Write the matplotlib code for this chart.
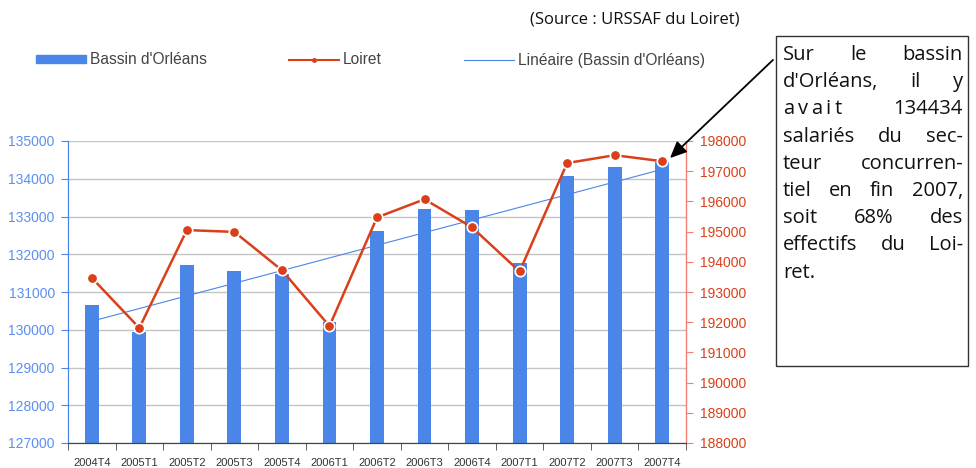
import numpy as np
import matplotlib
matplotlib.use("Agg")
import matplotlib.pyplot as plt
from matplotlib.patches import Patch, FancyArrowPatch, Rectangle
from matplotlib.lines import Line2D

trimestres = ["2004T4", "2005T1", "2005T2", "2005T3", "2005T4", "2006T1", "2006T2",
              "2006T3", "2006T4", "2007T1", "2007T2", "2007T3", "2007T4"]
bassin = [130650, 129930, 131710, 131550, 131480, 130200, 132620,
          133210, 133180, 131770, 134060, 134300, 134434]
loiret = [193470, 191810, 195050, 194990, 193720, 191870, 195470,
          196070, 195140, 193680, 197270, 197530, 197330]

bleu = "#4a86e8"
rouge = "#d9401a"
W, H = 976, 468

plt.rcParams['font.family'] = ['Liberation Sans', 'DejaVu Sans']
fig = plt.figure(figsize=(W / 100, H / 100), dpi=100)
ax = fig.add_axes([68 / W, (H - 443) / H, (686 - 68) / W, (443 - 141) / H])
ax2 = ax.twinx()

x = np.arange(len(trimestres))
ax.bar(x, bassin, width=0.29, color=bleu, zorder=2)
a, b = np.polyfit(x, bassin, 1)
ax.plot(x, a * x + b, color=bleu, lw=0.8, zorder=3)

ax2.plot(x, loiret, color=rouge, lw=1.8, marker="o", ms=7.5,
         mfc=rouge, mec="white", mew=1.2, zorder=4)

ax.set_xlim(-0.5, len(trimestres) - 0.5)
ax.set_ylim(127000, 135000)
ax2.set_ylim(188000, 198000)
ax.set_yticks(np.arange(127000, 135001, 1000))
ax2.set_yticks(np.arange(188000, 198001, 1000))
ax.grid(axis="y", color="#c4c4c4", lw=1, zorder=0)
ax.set_axisbelow(True)

ax.set_xticks(x)
ax.set_xticklabels(trimestres, fontsize=8, color="#333333")
ax.set_xticks(np.arange(-0.5, len(trimestres), 1), minor=True)
ax.tick_params(axis="x", which="major", length=0, pad=11)
ax.tick_params(axis="x", which="minor", length=5, color="#444444", direction="out")

ax.tick_params(axis="y", labelsize=10, labelcolor="#5b8ff0", color=bleu, length=5, pad=4.5)
ax2.tick_params(axis="y", labelsize=10, labelcolor=rouge, color="#f08070", length=5, pad=5)

ax.spines["top"].set_visible(False)
ax2.spines["top"].set_visible(False)
ax2.spines["left"].set_color(bleu)
ax2.spines["right"].set_color("#f08070")
ax2.spines["bottom"].set_color("#444444")
ax.spines["left"].set_color(bleu)
ax.spines["bottom"].set_color("#444444")

handles = [Patch(color=bleu),
           Line2D([], [], color=rouge, lw=1.5, marker="o", ms=2.5),
           Line2D([], [], color=bleu, lw=0.8)]
fig.legend(handles, ["Bassin d'Orléans", "Loiret", "Linéaire (Bassin d'Orléans)"],
           loc="center left", bbox_to_anchor=(36 / W, 1 - 60 / H), ncol=3,
           frameon=False, fontsize=11.2, handlelength=3.2, handleheight=0.44,
           handletextpad=0.26, columnspacing=5.3, labelcolor="#444444",
           borderpad=0, borderaxespad=0)

fig.text(740 / W, 1 - 19 / H, "(Source : URSSAF du Loiret)", ha="right", va="center",
         fontsize=12, family=["Open Sans", "DejaVu Sans"], color="#111111")

# encadré
bx0, bx1, by0, by1 = 776, 968, 36, 366
fig.patches.append(Rectangle((bx0 / W, 1 - by1 / H), (bx1 - bx0) / W, (by1 - by0) / H,
                             transform=fig.transFigure, fill=False, ec="#333333", lw=1))
lignes = ["Sur le bassin", "d'Orléans, il y", "avait 134434", "salariés du sec-",
          "teur concurren-", "tiel en fin 2007,", "soit 68% des",
          "effectifs du Loi-", "ret."]
espacement = {2: 3.5}
police = dict(fontsize=14.5, family=["Open Sans", "DejaVu Sans"], va="center",
              ha="left", color="#111111")
renderer = fig.canvas.get_renderer()
tx0, tx1 = 783, 963
for i, ligne in enumerate(lignes):
    yy = 1 - (55 + 27.2 * i) / H
    mots = ligne.split()
    if len(mots) == 1:
        fig.text(tx0 / W, yy, ligne, **police)
        continue
    blocs = []
    for m in mots:
        if i in espacement and not m.isdigit():
            glyphes = [fig.text(0, yy, c, **police) for c in m]
            larg = [g.get_window_extent(renderer).width for g in glyphes]
            blocs.append((glyphes, larg, espacement[i]))
        else:
            t = fig.text(0, yy, m, **police)
            blocs.append(([t], [t.get_window_extent(renderer).width], 0))
    tot = [sum(l) + e * (len(l) - 1) for _, l, e in blocs]
    gap = (tx1 - tx0 - sum(tot)) / (len(blocs) - 1)
    pos = tx0
    for (glyphes, larg, e), w in zip(blocs, tot):
        p = pos
        for g, lg in zip(glyphes, larg):
            g.set_x(p / W)
            p += lg + e
        pos += w + gap

fig.add_artist(FancyArrowPatch(
    (775 / W, 1 - 58 / H), (668 / W, 1 - 160 / H), transform=fig.transFigure,
    arrowstyle="-|>,head_length=10,head_width=4.5", color="black", lw=1.3))

fig.savefig("out.png", dpi=100)
